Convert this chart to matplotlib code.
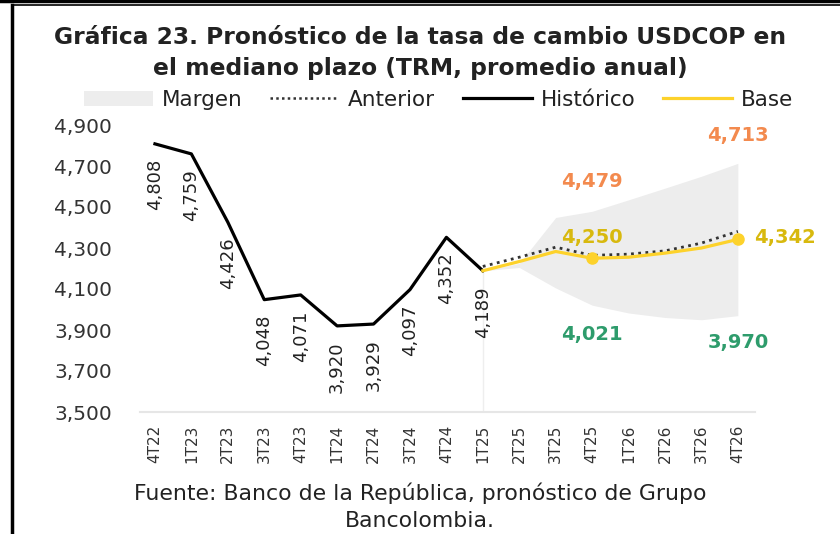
import numpy as np
import matplotlib.pyplot as plt
from matplotlib.lines import Line2D
from matplotlib.patches import Patch

# ---- Data ----
periodos = ['4T22', '1T23', '2T23', '3T23', '4T23', '1T24', '2T24', '3T24', '4T24',
            '1T25', '2T25', '3T25', '4T25', '1T26', '2T26', '3T26', '4T26']
historico = [4808, 4759, 4426, 4048, 4071, 3920, 3929, 4097, 4352, 4189]
base = [4189, 4234, 4283, 4250, 4255, 4275, 4300, 4342]
anterior = [4210, 4255, 4304, 4264, 4270, 4286, 4324, 4381]
margen_sup = [4189, 4225, 4449, 4479, 4535, 4592, 4650, 4713]
margen_inf = [4189, 4205, 4105, 4021, 3983, 3961, 3950, 3970]
yticks = [3500, 3700, 3900, 4100, 4300, 4500, 4700, 4900]

# colores
c_amarillo = '#FDD22B'
c_oro = '#D8B90E'
c_naranja = '#F38A4E'
c_verde = '#2E9C6C'
c_gris = '#EDEDED'

plt.rcParams['font.family'] = ['DejaVu Sans']

fig = plt.figure(figsize=(8.4, 5.34), dpi=100)
ax = fig.add_axes([140/840, (534-412)/534, 615/840, 287/534])

x = np.arange(len(periodos))
xh = x[:len(historico)]
xp = x[len(historico)-1:]

ax.fill_between(xp, margen_inf, margen_sup, color=c_gris, lw=0, zorder=1)
ax.plot([xh[-1], xh[-1]], [3500, historico[-1]], color='#EEEEEE', lw=1, zorder=1)
ax.plot(xh, historico, color='black', lw=2.3, zorder=3)
ax.plot(xp, anterior, color='#333333', lw=2, ls=(0, (1, 1.6)), zorder=4)
ax.plot(xp, base, color=c_amarillo, lw=2.3, zorder=5)
ax.plot([xp[3], xp[7]], [base[3], base[7]], 'o', color=c_amarillo, ms=8, zorder=6)

# etiquetas del historico
for i, v in enumerate(historico):
    ax.annotate(f'{v:,}', (xh[i], v), xytext=(0, -11), textcoords='offset points',
                rotation=90, ha='center', va='top', fontsize=13, color='#222222')

# etiquetas del pronostico
kw = dict(fontsize=14, fontweight='bold', ha='center', va='center')
ax.text(12, 4622, '4,479', color=c_naranja, **kw)
ax.text(16, 4851, '4,713', color=c_naranja, **kw)
ax.text(12, 4349, '4,250', color=c_oro, **kw)
ax.text(17.3, 4349, '4,342', color=c_oro, clip_on=False, **kw)
ax.text(12, 3880, '4,021', color=c_verde, **kw)
ax.text(16, 3837, '3,970', color=c_verde, **kw)

ax.set_xlim(-0.41, 16.47)
ax.set_ylim(3500, 4900)
ax.set_yticks(yticks)
ax.set_yticklabels([f'{v:,}' for v in yticks], fontsize=14.5, color='#333333')
ax.set_xticks(x)
ax.set_xticklabels(periodos, rotation=90, fontsize=11, color='#333333')
ax.tick_params(length=0, pad=9)
ax.tick_params(axis='y', pad=20)
for s in ['top', 'right', 'left']:
    ax.spines[s].set_visible(False)
ax.spines['bottom'].set_color('#E6E6E6')
ax.spines['bottom'].set_linewidth(1.5)

# titulo
fig.text(0.5, 1 - 38/534, 'Gráfica 23. Pronóstico de la tasa de cambio USDCOP en',
         ha='center', va='center', fontsize=16.8, fontweight='bold', color='#222222')
fig.text(0.5, 1 - 68/534, 'el mediano plazo (TRM, promedio anual)',
         ha='center', va='center', fontsize=16.8, fontweight='bold', color='#222222')

# leyenda
handles = [Patch(color=c_gris, lw=0),
           Line2D([], [], color='#333333', lw=1.8, ls=(0, (1, 1.3))),
           Line2D([], [], color='black', lw=2.3),
           Line2D([], [], color=c_amarillo, lw=2.3)]
fig.legend(handles, ['Margen', 'Anterior', 'Histórico', 'Base'], loc='center',
           bbox_to_anchor=(0.522, 1 - 100/534), ncol=4, frameon=False, fontsize=15.5,
           handlelength=3.2, handletextpad=0.4, columnspacing=1.3, labelcolor='#222222')

# fuente
fig.text(0.5, 1 - 493/534, 'Fuente: Banco de la República, pronóstico de Grupo',
         ha='center', va='center', fontsize=15.8, color='#222222')
fig.text(0.5, 1 - 521/534, 'Bancolombia.', ha='center', va='center', fontsize=15.8, color='#222222')

# marco
fig.add_artist(Line2D([0, 1], [1 - 1/534, 1 - 1/534], color='black', lw=2.5))
fig.add_artist(Line2D([12/840, 1], [1 - 5/534, 1 - 5/534], color='black', lw=1.2))
fig.add_artist(Line2D([12/840, 12/840], [0, 1 - 5/534], color='black', lw=2.5))

fig.savefig('out.png', dpi=100)
